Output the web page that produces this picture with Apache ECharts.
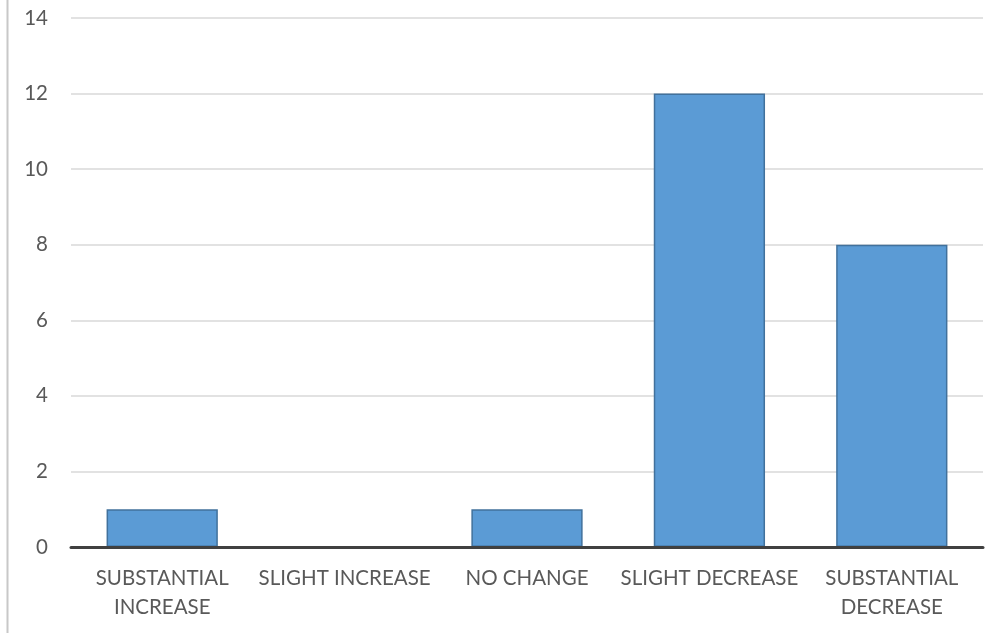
<!DOCTYPE html>
<html>
<head>
<meta charset="utf-8">
<script src="https://cdn.jsdelivr.net/npm/echarts@6/dist/echarts.min.js"></script>
<style>
  html, body { margin: 0; padding: 0; background: #fff; }
  #chart { width: 1003px; height: 633px; }
</style>
</head>
<body>
<div id="chart"></div>
<script>
const categories = ['SUBSTANTIAL\nINCREASE', 'SLIGHT INCREASE', 'NO CHANGE', 'SLIGHT DECREASE', 'SUBSTANTIAL\nDECREASE'];
const counts = [1, 0, 1, 12, 8];
const yMin = 0, yMax = 14, yStep = 2;

const FONT = 'Lato';
const TEXT = '#595959';

const chart = echarts.init(document.getElementById('chart'), null, { renderer: 'canvas' });
chart.setOption({
  animation: false,
  backgroundColor: '#ffffff',
  grid: { left: 71, right: 20, top: 18, bottom: 86, containLabel: false },
  graphic: [{
    type: 'line',
    shape: { x1: 7.5, y1: 0, x2: 7.5, y2: 633 },
    style: { stroke: '#c8c8c8', lineWidth: 2 }
  }],
  xAxis: {
    type: 'category',
    data: categories,
    z: 5,
    axisLine: { show: true, lineStyle: { color: '#404040', width: 3 } },
    axisTick: { show: false },
    axisLabel: {
      interval: 0, color: TEXT, fontFamily: FONT, fontSize: 20.5,
      lineHeight: 29, margin: 17
    }
  },
  yAxis: {
    type: 'value',
    min: yMin, max: yMax, interval: yStep,
    axisLine: { show: false },
    axisTick: { show: false },
    splitLine: { lineStyle: { color: '#d9d9d9', width: 1.5 } },
    axisLabel: { color: TEXT, fontFamily: FONT, fontSize: 20.5, margin: 23 }
  },
  series: [{
    type: 'bar',
    data: counts,
    barCategoryGap: '39%',
    itemStyle: { color: '#5b9bd5', borderColor: '#41719c', borderWidth: 1.5 }
  }]
});
</script>
</body>
</html>
